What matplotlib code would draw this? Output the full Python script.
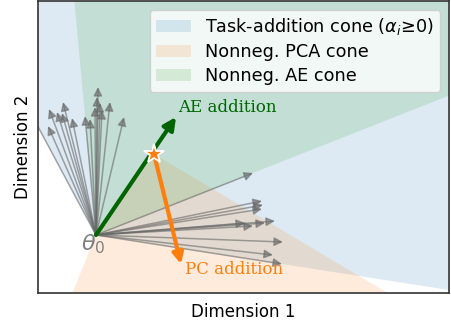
import numpy as np
import matplotlib
matplotlib.use("Agg")
import matplotlib.pyplot as plt
from matplotlib.patches import Polygon, FancyArrowPatch

# Base point and individual task vectors (2-D projection)
theta0 = np.array([0.0, 0.0])
task_vectors = np.array([
    [-0.68, 1.27],
    [-0.47, 1.26], [-0.48, 1.09], [-0.39, 1.23], [-0.33, 1.33],
    [-0.34, 1.22], [-0.24, 1.17], [-0.11, 1.19], [-0.06, 1.16],
    [0.02, 1.48], [0.01, 1.38], [0.04, 1.32], [-0.01, 1.28],
    [0.06, 1.25], [0.14, 1.33], [0.28, 1.18],
    [1.57, 0.62], [1.66, 0.34], [1.67, 0.30], [1.66, 0.26],
    [1.79, 0.14], [1.49, 0.12], [1.69, 0.12], [1.57, 0.09],
    [1.87, -0.07], [1.77, -0.20], [1.86, -0.29],
])

# Extreme directions of the non-negative AE cone
ae_cone_edges = np.array([[-0.11, 1.19], [1.57, 0.62]])

# Region spanned by non-negative PCA combinations
pca_cone_vertices = np.array([[0.0, 0.0], [0.58, 0.81], [4.58, -1.57], [-0.64, -1.57]])

# Merge steps
ae_step = np.array([0.80, 1.18])
merge_point = np.array([0.58, 0.81])
pc_step = np.array([0.27, -1.10])

legend_labels = [r"Task-addition cone ($\alpha_i$≥0)", "Nonneg. PCA cone", "Nonneg. AE cone"]
cone_colors = ["#1f77b4", "#ff7f0e", "#2ca02c"]


def wedge(origin, u, v, reach=20.0):
    u = u / np.linalg.norm(u)
    v = v / np.linalg.norm(v)
    return np.array([origin, origin + reach * u, origin + reach * (u + v), origin + reach * v])


fig = plt.figure(figsize=(4.51, 3.26), dpi=100)
ax = fig.add_axes([38 / 451, 33 / 326, 411 / 451, 292 / 326])

# task-addition cone: spanned by the two outermost task vectors
angles = np.arctan2(task_vectors[:, 1], task_vectors[:, 0])
left_edge = task_vectors[np.argmax(angles)]
right_edge = task_vectors[np.argmin(angles)]

ax.add_patch(Polygon(wedge(theta0, right_edge, left_edge), closed=True,
                     facecolor=cone_colors[0], alpha=0.15, edgecolor="none",
                     label=legend_labels[0], zorder=1))
ax.add_patch(Polygon(theta0 + pca_cone_vertices, closed=True,
                     facecolor=cone_colors[1], alpha=0.15, edgecolor="none",
                     label=legend_labels[1], zorder=1))
ax.add_patch(Polygon(wedge(theta0, ae_cone_edges[1], ae_cone_edges[0]), closed=True,
                     facecolor=cone_colors[2], alpha=0.15, edgecolor="none",
                     label=legend_labels[2], zorder=1))

for v in task_vectors:
    ax.add_patch(FancyArrowPatch(theta0, theta0 + v, arrowstyle="-|>",
                                 mutation_scale=13, lw=1.1, color="dimgray",
                                 alpha=0.6, shrinkA=0, shrinkB=0, zorder=2))

ax.add_patch(FancyArrowPatch(theta0, theta0 + ae_step, arrowstyle="-|>",
                             mutation_scale=18, lw=3, color="darkgreen",
                             shrinkA=0, shrinkB=0, zorder=4))
ax.add_patch(FancyArrowPatch(merge_point, merge_point + pc_step, arrowstyle="-|>",
                             mutation_scale=16, lw=3, color="#ff7f0e",
                             shrinkA=0, shrinkB=0, zorder=4))
ax.plot(merge_point[0], merge_point[1], marker="*", ms=15, color="#ff7f0e",
        mec="white", mew=1.3, zorder=6)

ax.text(theta0[0] + ae_step[0] + 0.02, theta0[1] + ae_step[1] + 0.10, "AE addition",
        color="darkgreen", family="DejaVu Serif", fontsize=12, va="center", ha="left")
ax.text(merge_point[0] + pc_step[0] + 0.04, merge_point[1] + pc_step[1] - 0.05, "PC addition",
        color="#ff7f0e", family="DejaVu Serif", fontsize=12, va="center", ha="left")
ax.text(theta0[0] - 0.03, theta0[1] - 0.09, r"$\theta_0$", color="gray",
        fontsize=16, ha="center", va="center", zorder=5)

ax.set_xlim(-0.58, 3.53)
ax.set_ylim(-0.58, 2.34)
ax.set_xticks([])
ax.set_yticks([])
for s in ax.spines.values():
    s.set_color("#333333")
    s.set_linewidth(1.2)
ax.set_xlabel("Dimension 1", fontsize=12, labelpad=7)
ax.set_ylabel("Dimension 2", fontsize=12)
ax.legend(loc="upper right", fontsize=12.7, labelspacing=0.35, borderpad=0.35)

fig.savefig("out.png", dpi=100)
